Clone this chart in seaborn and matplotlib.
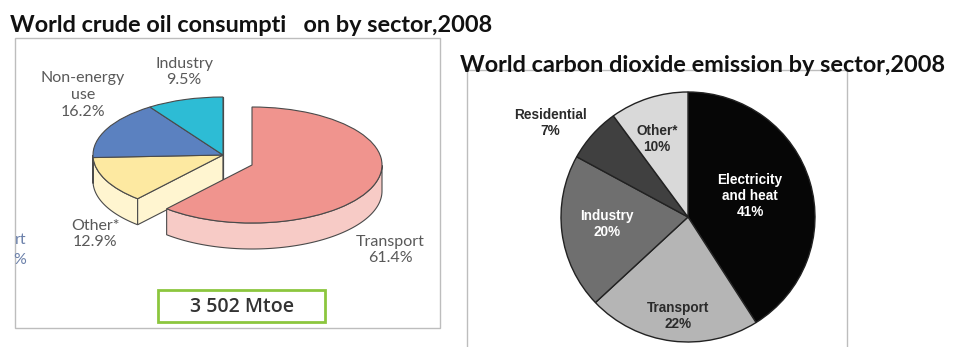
import numpy as np
import matplotlib
matplotlib.use("Agg")
import matplotlib.pyplot as plt
from matplotlib.patches import Polygon, Rectangle
import seaborn as sns

# ---- data -------------------------------------------------------------
oil_sectors = ["Transport", "Other*", "Non-energy\nuse", "Industry"]
oil_shares = [61.4, 12.9, 16.2, 9.5]
oil_total_label = "3 502 Mtoe"

co2_sectors = ["Electricity\nand heat", "Transport", "Industry", "Residential", "Other*"]
co2_shares = [41, 22, 20, 7, 10]

title_oil = "World crude oil consumpti   on by sector,2008"
title_co2 = "World carbon dioxide emission by sector,2008"

# ---- style ------------------------------------------------------------
sns.set_theme(style="white")
plt.rcParams["font.family"] = ["DejaVu Sans"]

W, H = 955, 347
fig = plt.figure(figsize=(W / 100, H / 100), dpi=100)
fig.patch.set_facecolor("white")

# pixel-space canvas for frames and free text
bg = fig.add_axes([0, 0, 1, 1], zorder=0)
bg.set_xlim(0, W)
bg.set_ylim(H, 0)
bg.axis("off")

title_font = ["Lato", "DejaVu Sans"]
label_font = ["Lato", "DejaVu Sans"]
box_font = ["Open Sans", "DejaVu Sans"]
bold_font = ["Liberation Sans", "DejaVu Sans"]

bg.text(10, 25, title_oil, fontsize=16.9, fontweight="bold", family=title_font,
        ha="left", va="center", color="#111111")
bg.text(460, 65, title_co2, fontsize=16.9, fontweight="bold", family=title_font,
        ha="left", va="center", color="#111111", zorder=3)

frame_c = "#BDBDBD"
bg.add_patch(Rectangle((15, 38), 425, 290, fill=False, edgecolor=frame_c, lw=1))
bg.plot([467, 847], [70, 70], color=frame_c, lw=1, zorder=1)
bg.plot([467, 467], [70, H], color=frame_c, lw=1)
bg.plot([847, 847], [70, H], color=frame_c, lw=1)

# remnants of a neighbouring label, cut by the frame edge
bg.text(15, 240, "rt", fontsize=11.5, family=label_font,
        color="#6B80AA", ha="left", va="center")
bg.text(13, 260, "%", fontsize=11.5, family=label_font,
        color="#6B80AA", ha="left", va="center")

# total box
bg.add_patch(Rectangle((158, 290), 167, 32, fill=False, edgecolor="#8CC63E", lw=2))
bg.text(242, 306.5, oil_total_label, fontsize=14, family=box_font,
        fontweight="semibold", color="#333333", ha="center", va="center")

# ---- left: 3-D style pie ----------------------------------------------
cx, cy, rx, ry = 223, 155, 130, 58          # ellipse centre / radii (px)
depth = 26 / ry                               # wall height in data units
ax1 = fig.add_axes([0, 0, 1, 1], zorder=1)
ax1.patch.set_alpha(0)
top_cols = ["#F0948E", "#FDE9A1", "#5B81C0", "#2DBCD5"]
side_cols = ["#F7CBC6", "#FFF5D0", "#4A6DAE", "#1E9CB4"]
edge_c = "#4A4A4A"
wedges, _ = ax1.pie(oil_shares, startangle=90, counterclock=False,
                    colors=top_cols,
                    wedgeprops=dict(edgecolor=edge_c, linewidth=0.8))
ax1.set_aspect("auto")
ax1.set_xlim((0 - cx) / rx, (W - cx) / rx)
ax1.set_ylim((cy - H) / ry, cy / ry)
ax1.axis("off")

# pull the transport slice out
wedges[0].set_center((29 / rx, -10 / ry))

n = len(wedges)
for i, w in enumerate(wedges):
    w.set_zorder(3)
    c = np.array(w.center)
    t1, t2 = w.theta1, w.theta2
    # front-facing part of the rim
    th = np.linspace(t1, t2, 400)
    vis = np.sin(np.radians(th)) < 0
    if vis.any():
        idx = np.where(vis)[0]
        runs = np.split(idx, np.where(np.diff(idx) > 1)[0] + 1)
        for run in runs:
            a = np.radians(th[run])
            top = np.column_stack([c[0] + np.cos(a), c[1] + np.sin(a)])
            bot = top[::-1] - [0, depth]
            ax1.add_patch(Polygon(np.vstack([top, bot]), closed=True,
                                  facecolor=side_cols[i], edgecolor=edge_c,
                                  lw=0.8, zorder=1 + 0.1 * (i == 0)))
    # cut faces exposed by the gap next to the pulled-out slice
    for ang, nb, normal in [(t2, (i - 1) % n, t2 + 90), (t1, (i + 1) % n, t1 - 90)]:
        if np.sin(np.radians(normal)) >= 0:
            continue
        if np.allclose(wedges[nb].center, w.center):
            continue
        a = np.radians(ang)
        p = c + [np.cos(a), np.sin(a)]
        quad = np.array([c, p, p - [0, depth], c - [0, depth]])
        ax1.add_patch(Polygon(quad, closed=True, facecolor=side_cols[i],
                              edgecolor=edge_c, lw=0.8, zorder=1))

oil_label_pos = [(390, 250), (95, 234), (83, 95), (184, 72)]
for name, val, (px, py) in zip(oil_sectors, oil_shares, oil_label_pos):
    bg.text(px, py, f"{name}\n{val:.1f}%", fontsize=11.5, family=label_font,
            color="#595959", ha="center", va="center",
            linespacing=1.25, zorder=5)

# ---- right: flat pie --------------------------------------------------
qx, qy, qrx, qry = 688, 217, 127, 125
ax2 = fig.add_axes([0, 0, 1, 1], zorder=2)
ax2.patch.set_alpha(0)
co2_cols = ["#060606", "#B5B5B5", "#6F6F6F", "#404040", "#D9D9D9"]
ax2.pie(co2_shares, startangle=90, counterclock=False, colors=co2_cols,
        wedgeprops=dict(edgecolor="#222222", linewidth=1))
ax2.set_aspect("auto")
ax2.set_xlim((0 - qx) / qrx, (W - qx) / qrx)
ax2.set_ylim((qy - H) / qry, qy / qry)
ax2.axis("off")

co2_label_pos = [(750, 196), (678, 316), (607, 224), (550, 123), (657, 139)]
co2_text_cols = ["white", "#2B2B2B", "white", "#2B2B2B", "#2B2B2B"]
for name, val, (px, py), tc in zip(co2_sectors, co2_shares, co2_label_pos, co2_text_cols):
    bg.text(px, py, f"{name}\n{val}%", fontsize=9.8, family=bold_font,
            fontweight="bold", color=tc, ha="center", va="center",
            linespacing=1.15, zorder=5)

# text layer must sit above the pies
bg.set_zorder(4)
bg.patch.set_alpha(0)

fig.savefig("out.png", dpi=100, facecolor="white")
